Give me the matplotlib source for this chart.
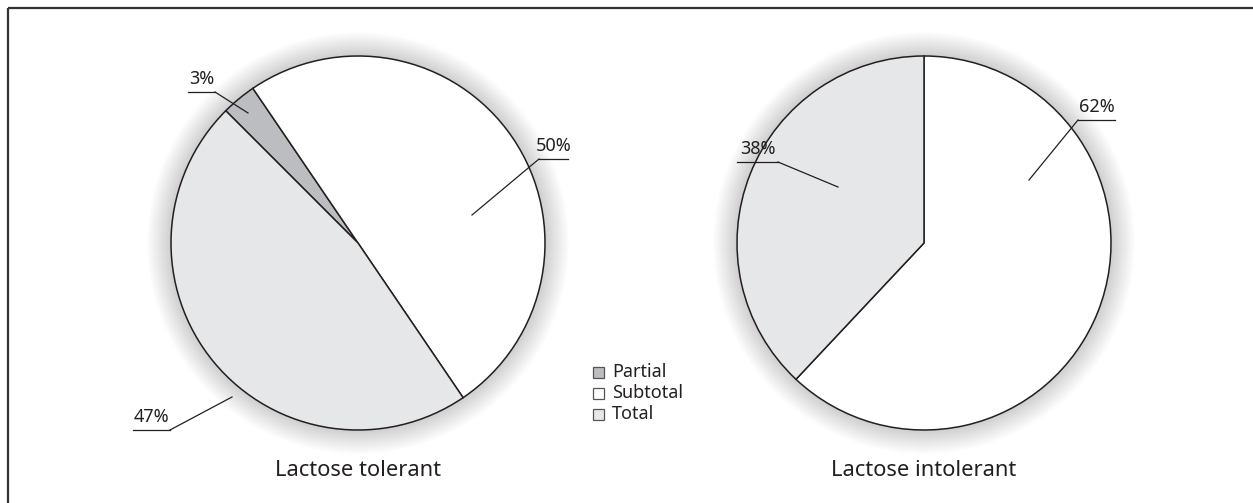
import matplotlib
matplotlib.use('Agg')
import matplotlib.pyplot as plt
from matplotlib.patches import Circle, Rectangle

plt.rcParams['font.family'] = ['Noto Sans', 'DejaVu Sans']

#%% data
categories = ['Partial', 'Subtotal', 'Total']
tolerant = [3, 50, 47]
intolerant = [0, 62, 38]
titles = ['Lactose tolerant', 'Lactose intolerant']

#%% style
colors = ['#bcbdc0', '#ffffff', '#e6e7e8']
edge = '#231f20'
W, H = 1253, 503

# pie layout in pixels (y measured from top)
pies = [
    dict(vals=tolerant, cx=358, cy=243, start=135),
    dict(vals=intolerant, cx=924, cy=243, start=90),
]
R = 187

# leader lines: (underline x0, x1, y, inner x, inner y, diagonal start x)
leaders = [
    # left pie: Partial, Subtotal, Total
    [(188, 215, 92, 248, 113, 215), (539, 568, 159, 472, 215, 539), (133, 170, 430, 232, 397, 170)],
    # right pie: Subtotal, Total
    [None, (1078, 1115, 120, 1029, 180, 1078), (737, 778, 162, 838, 187, 778)],
]

fig = plt.figure(figsize=(W/100, H/100), dpi=100)
ax = fig.add_axes([0, 0, 1, 1])

def py(y):
    return H - y

for k, p in enumerate(pies):
    cx, cy = p['cx'], py(p['cy'])
    # soft glow shadow
    for i in range(24, 0, -1):
        ax.add_patch(Circle((cx, cy), R + i, color='black', alpha=0.009, lw=0, zorder=1))
    vals = p['vals']
    keep = [i for i, v in enumerate(vals) if v > 0]
    wedges, _ = ax.pie([vals[i] for i in keep], colors=[colors[i] for i in keep],
                       center=(cx, cy), radius=R, startangle=p['start'], counterclock=False,
                       wedgeprops=dict(edgecolor=edge, linewidth=1.1))
    for w in wedges:
        w.set_zorder(3)
    # labels
    for i in keep:
        x0, x1, yl, xi, yi, xs = leaders[k][i]
        ax.plot([x0, x1], [py(yl), py(yl)], color=edge, lw=0.9, zorder=4)
        ax.plot([xs, xi], [py(yl), py(yi)], color=edge, lw=0.9, zorder=4)
        ax.text((x0 + x1) / 2, py(yl) + 4, '%d%%' % vals[i], ha='center', va='bottom',
                fontsize=13, color='#231f20', zorder=5)
    ax.text(cx, py(470), titles[k], ha='center', va='center', fontsize=15.8, color='#231f20')

# legend
for i, name in enumerate(categories):
    yc = 372 + 21 * i
    ax.add_patch(Rectangle((593, py(yc) - 5.5), 11, 11, facecolor=colors[i],
                           edgecolor='#555555', lw=0.9, zorder=3))
    ax.text(612, py(yc), name, ha='left', va='center', fontsize=13, color='#231f20')

# frame (top and left edges visible)
ax.plot([8, W], [py(8), py(8)], color='#333333', lw=1.6, solid_capstyle='butt')
ax.plot([8, 8], [py(8), 0], color='#333333', lw=1.6, solid_capstyle='butt')

ax.set_xlim(0, W)
ax.set_ylim(0, H)
ax.set_aspect('equal')
ax.axis('off')

fig.savefig('out.png', dpi=100)
